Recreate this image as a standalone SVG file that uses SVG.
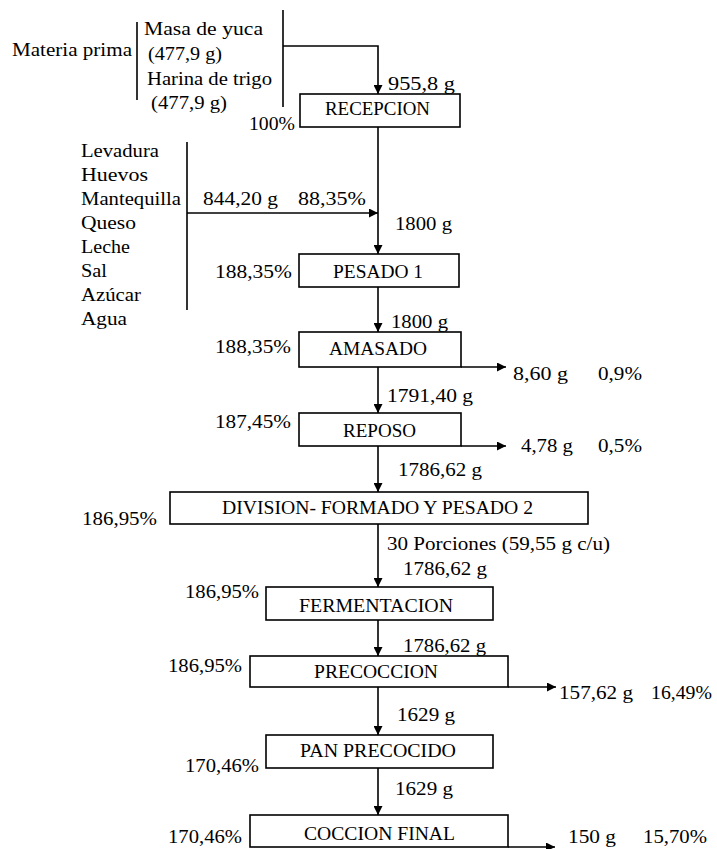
<svg xmlns="http://www.w3.org/2000/svg" width="717" height="849" viewBox="0 0 717 849">
<style>
text{font-family:"Liberation Serif","Times New Roman",serif;font-size:18px;fill:#000}
.box{fill:#fff;stroke:#000;stroke-width:1.6}
.ln{fill:none;stroke:#000;stroke-width:1.6}
.ar{fill:none;stroke:#000;stroke-width:1.6;marker-end:url(#ah)}
</style>
<defs>
<marker id="ah" viewBox="0 0 10 10" refX="10" refY="5" markerWidth="10" markerHeight="9" markerUnits="userSpaceOnUse" orient="auto">
<path d="M0,0 L10,5 L0,10 Z" fill="#000"/>
</marker>
</defs>
<rect width="717" height="849" fill="#fff"/>
<g id="connectors">
<line class="ln" x1="137" y1="22" x2="137" y2="100"/>
<line class="ln" x1="283" y1="10" x2="283" y2="107"/>
<line class="ln" x1="187" y1="142" x2="187" y2="310"/>
<path class="ar" d="M283 46 H378 V94"/>
<path class="ar" d="M378 127 V254"/>
<path class="ar" d="M187 213 H378"/>
<path class="ar" d="M378 287 V332"/>
<path class="ar" d="M378 367 V413"/>
<path class="ar" d="M378 446 V492"/>
<path class="ar" d="M378 524 V587"/>
<path class="ar" d="M378 620 V656"/>
<path class="ar" d="M378 687 V735"/>
<path class="ar" d="M378 768 V815"/>
<path class="ar" d="M461 367 H506"/>
<path class="ar" d="M461 446 H506"/>
<path class="ar" d="M508 687 H556"/>
<path class="ar" d="M508 847 H555"/>
</g>
<g id="materia-prima">
<text x="12" y="56" textLength="120" lengthAdjust="spacingAndGlyphs">Materia prima</text>
<text x="144" y="35" textLength="119" lengthAdjust="spacingAndGlyphs">Masa de yuca</text>
<text x="148" y="60" textLength="74" lengthAdjust="spacingAndGlyphs">(477,9 g)</text>
<text x="147" y="85" textLength="125" lengthAdjust="spacingAndGlyphs">Harina de trigo</text>
<text x="151" y="109" textLength="76" lengthAdjust="spacingAndGlyphs">(477,9 g)</text>
<text x="388" y="90" textLength="67" lengthAdjust="spacingAndGlyphs">955,8 g</text>
</g>
<g id="recepcion">
<rect class="box" x="300" y="94" width="160" height="33"/>
<text x="325" y="115" textLength="105" lengthAdjust="spacingAndGlyphs">RECEPCION</text>
<text x="249" y="130" textLength="46" lengthAdjust="spacingAndGlyphs">100%</text>
</g>
<g id="ingredientes">
<text x="81" y="157" textLength="78" lengthAdjust="spacingAndGlyphs">Levadura</text>
<text x="81" y="181" textLength="67" lengthAdjust="spacingAndGlyphs">Huevos</text>
<text x="81" y="205" textLength="100" lengthAdjust="spacingAndGlyphs">Mantequilla</text>
<text x="81" y="229" textLength="55" lengthAdjust="spacingAndGlyphs">Queso</text>
<text x="81" y="253" textLength="49" lengthAdjust="spacingAndGlyphs">Leche</text>
<text x="81" y="277" textLength="26" lengthAdjust="spacingAndGlyphs">Sal</text>
<text x="81" y="301" textLength="60" lengthAdjust="spacingAndGlyphs">Azúcar</text>
<text x="81" y="325" textLength="46" lengthAdjust="spacingAndGlyphs">Agua</text>
<text x="203" y="205" textLength="75" lengthAdjust="spacingAndGlyphs">844,20 g</text>
<text x="298" y="205" textLength="68" lengthAdjust="spacingAndGlyphs">88,35%</text>
<text x="395" y="230" textLength="57" lengthAdjust="spacingAndGlyphs">1800 g</text>
</g>
<g id="pesado1">
<rect class="box" x="299" y="254" width="160" height="33"/>
<text x="333" y="278" textLength="90" lengthAdjust="spacingAndGlyphs">PESADO 1</text>
<text x="215" y="278" textLength="77" lengthAdjust="spacingAndGlyphs">188,35%</text>
<text x="391" y="328" textLength="57" lengthAdjust="spacingAndGlyphs">1800 g</text>
</g>
<g id="amasado">
<rect class="box" x="299" y="332" width="162" height="35"/>
<text x="329" y="355" textLength="98" lengthAdjust="spacingAndGlyphs">AMASADO</text>
<text x="215" y="353" textLength="76" lengthAdjust="spacingAndGlyphs">188,35%</text>
<text x="513" y="380" textLength="55" lengthAdjust="spacingAndGlyphs">8,60 g</text>
<text x="598" y="380" textLength="44" lengthAdjust="spacingAndGlyphs">0,9%</text>
<text x="387" y="402" textLength="86" lengthAdjust="spacingAndGlyphs">1791,40 g</text>
</g>
<g id="reposo">
<rect class="box" x="299" y="413" width="162" height="33"/>
<text x="343" y="437" textLength="73" lengthAdjust="spacingAndGlyphs">REPOSO</text>
<text x="215" y="428" textLength="76" lengthAdjust="spacingAndGlyphs">187,45%</text>
<text x="521" y="452" textLength="52" lengthAdjust="spacingAndGlyphs">4,78 g</text>
<text x="598" y="452" textLength="44" lengthAdjust="spacingAndGlyphs">0,5%</text>
<text x="398" y="476" textLength="84" lengthAdjust="spacingAndGlyphs">1786,62 g</text>
</g>
<g id="division">
<rect class="box" x="170" y="492" width="418" height="32"/>
<text x="222" y="514" textLength="311" lengthAdjust="spacingAndGlyphs">DIVISION- FORMADO Y PESADO 2</text>
<text x="82" y="525" textLength="75" lengthAdjust="spacingAndGlyphs">186,95%</text>
<text x="387" y="550" textLength="223" lengthAdjust="spacingAndGlyphs">30 Porciones (59,55 g c/u)</text>
<text x="403" y="575" textLength="84" lengthAdjust="spacingAndGlyphs">1786,62 g</text>
</g>
<g id="fermentacion">
<rect class="box" x="266" y="587" width="227" height="33"/>
<text x="299" y="612" textLength="154" lengthAdjust="spacingAndGlyphs">FERMENTACION</text>
<text x="185" y="598" textLength="74" lengthAdjust="spacingAndGlyphs">186,95%</text>
<text x="403" y="652" textLength="83" lengthAdjust="spacingAndGlyphs">1786,62 g</text>
</g>
<g id="precoccion">
<rect class="box" x="250" y="656" width="258" height="31"/>
<text x="314" y="678" textLength="124" lengthAdjust="spacingAndGlyphs">PRECOCCION</text>
<text x="168" y="672" textLength="74" lengthAdjust="spacingAndGlyphs">186,95%</text>
<text x="559" y="699" textLength="74" lengthAdjust="spacingAndGlyphs">157,62 g</text>
<text x="651" y="699" textLength="61" lengthAdjust="spacingAndGlyphs">16,49%</text>
<text x="397" y="721" textLength="58" lengthAdjust="spacingAndGlyphs">1629 g</text>
</g>
<g id="pan-precocido">
<rect class="box" x="266" y="735" width="227" height="33"/>
<text x="300" y="757" textLength="156" lengthAdjust="spacingAndGlyphs">PAN PRECOCIDO</text>
<text x="185" y="772" textLength="74" lengthAdjust="spacingAndGlyphs">170,46%</text>
<text x="395" y="795" textLength="58" lengthAdjust="spacingAndGlyphs">1629 g</text>
</g>
<g id="coccion-final">
<rect class="box" x="250" y="815" width="258" height="32"/>
<text x="304" y="840" textLength="151" lengthAdjust="spacingAndGlyphs">COCCION FINAL</text>
<text x="168" y="843" textLength="74" lengthAdjust="spacingAndGlyphs">170,46%</text>
<text x="568" y="843" textLength="48" lengthAdjust="spacingAndGlyphs">150 g</text>
<text x="643" y="843" textLength="64" lengthAdjust="spacingAndGlyphs">15,70%</text>
</g>
</svg>
